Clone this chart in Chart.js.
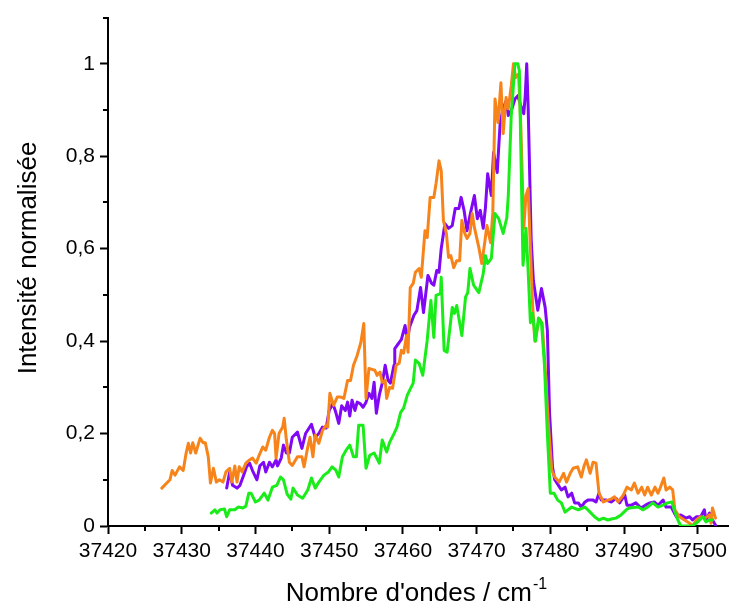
<!DOCTYPE html>
<html>
<head>
<meta charset="utf-8">
<script src="https://cdn.jsdelivr.net/npm/chart.js@4/dist/chart.umd.min.js"></script>
<style>
  body { margin: 0; background: #fff; }
  canvas { display: block; }
</style>
</head>
<body>
<canvas id="canvas" width="732" height="608"></canvas>
<script>
// wavenumber (cm-1) and normalised intensity
var orangeX = [
  37427.3, 37428.4, 37428.7, 37429.1, 37429.7, 37430.2, 37430.6, 37430.9, 37431.2, 37431.5,
  37431.9, 37432.5, 37432.9, 37433.2, 37433.6, 37433.9, 37434.3, 37434.7, 37435.1, 37435.6,
  37436.0, 37436.5, 37436.8, 37437.2, 37437.5, 37437.8, 37438.2, 37438.7, 37439.2, 37439.6,
  37440.1, 37440.5, 37441.0, 37441.4, 37441.9, 37442.3, 37442.6, 37442.8, 37443.2, 37443.7,
  37443.9, 37444.2, 37444.6, 37445.0, 37445.7, 37446.3, 37446.6, 37447.1, 37447.4, 37447.8,
  37448.1, 37448.6, 37449.1, 37449.6, 37449.8, 37450.1, 37450.6, 37451.1, 37451.6, 37452.0,
  37452.5, 37452.9, 37453.3, 37453.8, 37454.3, 37454.7, 37455.0, 37455.4, 37455.8, 37456.2,
  37456.5, 37456.9, 37457.2, 37457.6, 37457.8, 37458.2, 37458.6, 37459.1, 37459.5, 37459.8,
  37460.1, 37460.5, 37460.7, 37461.0, 37461.4, 37461.7, 37462.2, 37462.5, 37463.0, 37463.3,
  37463.7, 37464.2, 37464.5, 37464.9, 37465.2, 37465.5, 37465.9, 37466.2, 37466.5, 37466.9,
  37467.3, 37467.7, 37468.0, 37468.4, 37468.7, 37469.1, 37469.4, 37469.7, 37470.3, 37470.7,
  37471.1, 37471.4, 37471.9, 37472.2, 37472.5, 37472.9, 37473.3, 37473.6, 37474.0, 37474.3,
  37474.7, 37475.0, 37475.3, 37475.7, 37476.0, 37476.4, 37476.7, 37477.0, 37477.3, 37477.6,
  37477.9, 37478.5, 37478.9, 37479.3, 37479.7, 37480.2, 37480.6, 37481.2, 37481.8, 37482.2,
  37482.7, 37483.1, 37483.7, 37484.2, 37484.6, 37484.9, 37485.4, 37485.8, 37486.2, 37486.6,
  37487.2, 37487.8, 37488.2, 37488.7, 37489.2, 37489.9, 37490.4, 37491.0, 37491.4, 37491.9,
  37492.4, 37492.8, 37493.2, 37493.7, 37494.2, 37494.6, 37494.9, 37495.4, 37495.7, 37496.2,
  37496.6, 37496.9, 37497.5, 37498.2, 37498.9, 37499.3, 37499.8, 37500.4, 37501.0, 37501.6,
  37501.8, 37502.0, 37502.4
];
var orangeY = [
  0.082, 0.10, 0.12, 0.11, 0.128, 0.12, 0.158, 0.179, 0.158, 0.18,
  0.158, 0.19, 0.18, 0.18, 0.15, 0.093, 0.125, 0.095, 0.10, 0.095,
  0.117, 0.125, 0.095, 0.13, 0.095, 0.128, 0.117, 0.136, 0.143, 0.147,
  0.136, 0.153, 0.171, 0.164, 0.192, 0.207, 0.20, 0.147, 0.20, 0.214,
  0.233, 0.186, 0.138, 0.131, 0.15, 0.15, 0.128, 0.171, 0.192, 0.15,
  0.197, 0.179, 0.207, 0.218, 0.214, 0.287, 0.261, 0.279, 0.279, 0.276,
  0.315, 0.315, 0.348, 0.369, 0.397, 0.438, 0.276, 0.341, 0.339, 0.337,
  0.326, 0.333, 0.311, 0.315, 0.276, 0.30, 0.298, 0.348, 0.352, 0.38,
  0.374, 0.412, 0.376, 0.516, 0.525, 0.549, 0.557, 0.538, 0.639, 0.624,
  0.711, 0.711, 0.741, 0.79, 0.769, 0.661, 0.633, 0.581, 0.585, 0.559,
  0.574, 0.574, 0.661, 0.633, 0.622, 0.633, 0.676, 0.646, 0.603, 0.568,
  0.613, 0.65, 0.613, 0.678, 0.924, 0.873, 0.959, 0.849, 0.927, 0.903,
  0.952, 1.0, 0.97, 0.978, 0.866, 0.644, 0.715, 0.73, 0.60, 0.477,
  0.40, 0.449, 0.438, 0.343, 0.229, 0.121, 0.106, 0.095, 0.114, 0.095,
  0.114, 0.125, 0.128, 0.106, 0.131, 0.143, 0.114, 0.138, 0.136, 0.071,
  0.052, 0.056, 0.058, 0.063, 0.052, 0.067, 0.084, 0.078, 0.093, 0.071,
  0.084, 0.067, 0.084, 0.067, 0.084, 0.071, 0.082, 0.104, 0.078, 0.084,
  0.078, 0.035, 0.02, 0.013, 0.006, 0.0, 0.013, 0.02, 0.017, 0.024,
  0.006, 0.039, 0.017
];

var purpleX = [
  37436.1, 37436.5, 37436.9, 37437.5, 37437.9, 37438.4, 37438.8, 37439.2, 37439.6, 37440.2,
  37440.6, 37441.1, 37441.4, 37441.9, 37442.3, 37442.8, 37443.0, 37443.5, 37443.8, 37444.2,
  37444.6, 37445.0, 37445.7, 37446.3, 37446.8, 37447.6, 37448.1, 37448.6, 37449.1, 37449.6,
  37450.0, 37450.5, 37450.9, 37451.3, 37451.7, 37452.2, 37452.5, 37452.8, 37453.1, 37453.5,
  37453.8, 37454.2, 37454.6, 37455.0, 37455.4, 37455.8, 37456.1, 37456.4, 37456.8, 37457.2,
  37457.6, 37458.0, 37458.3, 37458.8, 37458.9, 37459.5, 37459.8, 37460.3, 37460.6, 37460.9,
  37461.5, 37461.9, 37462.4, 37462.8, 37463.4, 37463.9, 37464.2, 37464.6, 37464.9, 37465.2,
  37465.7, 37466.2, 37466.7, 37467.1, 37467.6, 37467.9, 37468.3, 37468.7, 37469.1, 37469.7,
  37470.1, 37470.5, 37470.9, 37471.2, 37471.5, 37472.0, 37472.3, 37472.8, 37473.2, 37473.6,
  37474.0, 37474.3, 37474.8, 37475.2, 37475.6, 37476.0, 37476.4, 37476.6, 37476.8, 37477.0,
  37477.4, 37477.7, 37478.3, 37478.8, 37479.3, 37479.6, 37479.9, 37480.3, 37480.6, 37481.1,
  37481.5, 37482.0, 37482.4, 37482.9, 37483.3, 37483.8, 37484.2, 37484.7, 37485.1, 37485.8,
  37486.2, 37486.6, 37486.9, 37487.6, 37488.3, 37488.9, 37489.4, 37490.1, 37490.4, 37491.0,
  37491.6, 37492.3, 37492.9, 37493.5, 37494.1, 37494.6, 37495.3, 37495.7, 37496.4, 37497.1,
  37497.7, 37498.4, 37498.9, 37499.3, 37499.8, 37500.4, 37500.9, 37501.1, 37501.6, 37502.0,
  37502.4
];
var purpleY = [
  0.082, 0.117, 0.088, 0.082, 0.088, 0.11, 0.128, 0.136, 0.12, 0.10,
  0.13, 0.138, 0.117, 0.138, 0.128, 0.143, 0.13, 0.147, 0.175, 0.158,
  0.158, 0.192, 0.203, 0.168, 0.20, 0.22, 0.192, 0.20, 0.214, 0.212,
  0.25, 0.265, 0.246, 0.222, 0.26, 0.25, 0.268, 0.238, 0.272, 0.25,
  0.268, 0.265, 0.257, 0.268, 0.287, 0.276, 0.311, 0.244, 0.283, 0.309,
  0.348, 0.315, 0.309, 0.348, 0.384, 0.397, 0.404, 0.434, 0.40, 0.43,
  0.456, 0.466, 0.516, 0.462, 0.542, 0.525, 0.521, 0.553, 0.549, 0.60,
  0.654, 0.644, 0.65, 0.687, 0.687, 0.711, 0.683, 0.639, 0.672, 0.715,
  0.665, 0.683, 0.644, 0.689, 0.762, 0.715, 0.808, 0.765, 0.873, 0.903,
  0.92, 0.888, 0.903, 0.924, 0.931, 0.909, 0.892, 0.931, 1.0, 0.903,
  0.622, 0.531, 0.467, 0.514, 0.473, 0.423, 0.244, 0.127, 0.10, 0.088,
  0.078, 0.084, 0.063, 0.071, 0.05, 0.05, 0.041, 0.052, 0.056, 0.056,
  0.052, 0.071, 0.056, 0.056, 0.052, 0.06, 0.05, 0.067, 0.045, 0.045,
  0.05, 0.039, 0.045, 0.05, 0.052, 0.045, 0.056, 0.041, 0.041, 0.02,
  0.024, 0.017, 0.02, 0.013, 0.02, 0.02, 0.035, 0.013, 0.028, 0.013,
  0.002
];

var greenX = [
  37434.0, 37434.5, 37434.8, 37435.2, 37435.8, 37436.1, 37436.5, 37437.2, 37437.5, 37437.7,
  37438.3, 37438.7, 37439.1, 37439.4, 37440.0, 37440.5, 37441.2, 37441.7, 37442.3, 37442.9,
  37443.4, 37443.8, 37444.3, 37444.8, 37445.1, 37445.7, 37446.4, 37447.1, 37447.6, 37448.1,
  37448.6, 37449.3, 37449.9, 37450.4, 37450.9, 37451.3, 37451.8, 37452.3, 37452.8, 37453.3,
  37453.7, 37454.0, 37454.6, 37455.0, 37455.5, 37456.1, 37456.8, 37457.2, 37457.8, 37458.2,
  37458.8, 37459.2, 37459.7, 37460.1, 37460.6, 37461.4, 37461.7, 37462.2, 37462.7, 37463.3,
  37463.8, 37464.2, 37464.5, 37465.1, 37465.2, 37465.6, 37466.0, 37466.7, 37467.0, 37467.3,
  37468.0, 37468.5, 37468.8, 37469.1, 37469.6, 37470.3, 37470.9, 37471.2, 37471.5, 37472.0,
  37472.5, 37473.0, 37473.6, 37474.1, 37474.3, 37474.7, 37475.2, 37475.6, 37475.8, 37476.3,
  37476.7, 37477.0, 37477.3, 37477.6, 37478.0, 37478.4, 37478.8, 37479.2, 37479.6, 37480.0,
  37480.5, 37481.0, 37481.5, 37482.0, 37482.9, 37483.8, 37484.7, 37485.4, 37486.0, 37486.6,
  37487.2, 37487.8, 37488.3, 37488.9, 37489.6, 37490.3, 37490.7, 37491.3, 37491.9, 37492.6,
  37493.2, 37493.9, 37494.6, 37495.3, 37495.9, 37496.5, 37496.8, 37497.3, 37497.7, 37498.5,
  37499.3, 37500.0, 37500.7, 37501.1, 37501.6, 37502.0
];
var greenY = [
  0.028, 0.035, 0.028, 0.035, 0.037, 0.02, 0.035, 0.035, 0.039, 0.041,
  0.039, 0.043, 0.071, 0.071, 0.052, 0.056, 0.071, 0.056, 0.084, 0.088,
  0.106, 0.10, 0.069, 0.058, 0.082, 0.067, 0.06, 0.078, 0.104, 0.082,
  0.095, 0.11, 0.117, 0.128, 0.121, 0.106, 0.15, 0.164, 0.175, 0.15,
  0.15, 0.218, 0.218, 0.125, 0.153, 0.158, 0.136, 0.186, 0.16, 0.181,
  0.20, 0.214, 0.246, 0.255, 0.283, 0.309, 0.359, 0.352, 0.326, 0.402,
  0.488, 0.408, 0.499, 0.503, 0.538, 0.38, 0.376, 0.473, 0.46, 0.477,
  0.412, 0.495, 0.505, 0.557, 0.521, 0.505, 0.546, 0.585, 0.568, 0.579,
  0.676, 0.665, 0.633, 0.667, 0.715, 0.888, 1.0, 1.0, 0.985, 0.564,
  0.644, 0.55, 0.44, 0.46, 0.40, 0.45, 0.44, 0.35, 0.20, 0.071,
  0.071, 0.056, 0.05, 0.03, 0.041, 0.035, 0.041, 0.03, 0.02, 0.013,
  0.017, 0.013, 0.015, 0.017, 0.024, 0.035, 0.039, 0.04, 0.041, 0.035,
  0.041, 0.05, 0.041, 0.045, 0.05, 0.052, 0.035, 0.013, 0.0, 0.0,
  0.0, 0.009, 0.02, 0.009, 0.013, 0.013
];

var xTicks = [37420, 37430, 37440, 37450, 37460, 37470, 37480, 37490, 37500];
var xMinorTicks = [37425, 37435, 37445, 37455, 37465, 37475, 37485, 37495];
var yTicks = [0, 0.2, 0.4, 0.6, 0.8, 1];
var yMinorTicks = [0.1, 0.3, 0.5, 0.7, 0.9, 1.1];

var FONT = "'Liberation Sans', Arial, sans-serif";

function toPoints(xs, ys) {
  var pts = [];
  for (var i = 0; i < Math.min(xs.length, ys.length); i++) {
    pts.push({ x: xs[i], y: ys[i] });
  }
  return pts;
}

function frLabel(v) {
  return String(Math.round(v * 10) / 10).replace('.', ',');
}

// minor ticks + axis titles (x title needs a superscript)
var extras = {
  id: 'extras',
  afterDraw: function(chart) {
    var ctx = chart.ctx;
    var xs = chart.scales.x, ys = chart.scales.y;
    var area = chart.chartArea;
    ctx.save();
    ctx.strokeStyle = '#000';
    ctx.lineWidth = 2;
    xMinorTicks.forEach(function(v) {
      var px = Math.round(xs.getPixelForValue(v));
      ctx.beginPath();
      ctx.moveTo(px, area.bottom);
      ctx.lineTo(px, area.bottom + 5);
      ctx.stroke();
    });
    yMinorTicks.forEach(function(v) {
      var py = Math.round(ys.getPixelForValue(v));
      ctx.beginPath();
      ctx.moveTo(area.left, py);
      ctx.lineTo(area.left - 5, py);
      ctx.stroke();
    });

    ctx.fillStyle = '#000';
    // y title
    ctx.save();
    ctx.translate(29, 258);
    ctx.rotate(-Math.PI / 2);
    ctx.font = '26px ' + FONT;
    ctx.textAlign = 'center';
    ctx.textBaseline = 'middle';
    ctx.fillText('Intensité normalisée', 0, 0);
    ctx.restore();

    // x title
    var main = "Nombre d'ondes / cm";
    var sup = '-1';
    ctx.font = '26px ' + FONT;
    var w1 = ctx.measureText(main).width;
    ctx.font = '16px ' + FONT;
    var w2 = ctx.measureText(sup).width;
    var startX = 416 - (w1 + w2) / 2;
    ctx.textAlign = 'left';
    ctx.textBaseline = 'alphabetic';
    ctx.font = '26px ' + FONT;
    ctx.fillText(main, startX, 601);
    ctx.font = '16px ' + FONT;
    ctx.fillText(sup, startX + w1 + 1, 589);
    ctx.restore();
  }
};

var ctx = document.getElementById('canvas').getContext('2d');
var chart = new Chart(ctx, {
  type: 'line',
  data: {
    datasets: [
      {
        label: 'vert',
        data: toPoints(greenX, greenY),
        borderColor: '#19ec19',
        borderWidth: 3,
        order: 1
      },
      {
        label: 'orange',
        data: toPoints(orangeX, orangeY),
        borderColor: '#f7841a',
        borderWidth: 3,
        order: 2
      },
      {
        label: 'violet',
        data: toPoints(purpleX, purpleY),
        borderColor: '#8008f5',
        borderWidth: 3,
        order: 3
      }
    ]
  },
  options: {
    responsive: false,
    animation: false,
    events: [],
    elements: {
      point: { radius: 0 },
      line: { tension: 0, borderJoinStyle: 'round', borderCapStyle: 'round' }
    },
    layout: { padding: { left: 0, right: 1, top: 16, bottom: 0 } },
    plugins: {
      legend: { display: false },
      tooltip: { enabled: false }
    },
    scales: {
      x: {
        type: 'linear',
        min: 37420,
        max: 37504.2,
        afterBuildTicks: function(scale) {
          scale.ticks = xTicks.map(function(v) { return { value: v }; });
        },
        afterFit: function(scale) { scale.height = 82; },
        grid: {
          drawOnChartArea: false,
          drawTicks: true,
          tickLength: 8,
          tickWidth: 2,
          tickColor: '#000'
        },
        border: { display: true, color: '#000', width: 2 },
        ticks: {
          color: '#000',
          font: { family: FONT, size: 21 },
          padding: 5,
          maxRotation: 0,
          autoSkip: false,
          callback: function(v) { return String(v); }
        }
      },
      y: {
        type: 'linear',
        min: 0,
        max: 1.1,
        afterBuildTicks: function(scale) {
          scale.ticks = yTicks.map(function(v) { return { value: v }; });
        },
        afterFit: function(scale) { scale.width = 108; },
        grid: {
          drawOnChartArea: false,
          drawTicks: true,
          tickLength: 8,
          tickWidth: 2,
          tickColor: '#000'
        },
        border: { display: true, color: '#000', width: 2 },
        ticks: {
          color: '#000',
          font: { family: FONT, size: 21 },
          padding: 5,
          autoSkip: false,
          callback: function(v) { return frLabel(v); }
        }
      }
    }
  },
  plugins: [extras]
});
</script>
</body>
</html>
